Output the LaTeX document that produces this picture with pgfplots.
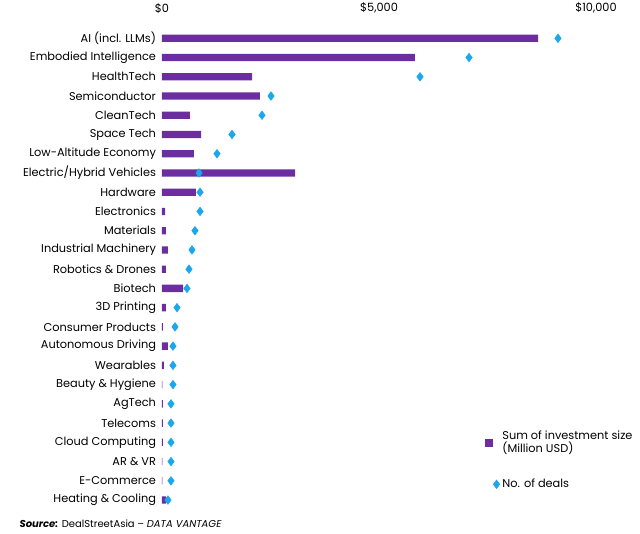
\documentclass[border=0pt]{standalone}
\usepackage{pgfplots}
\pgfplotsset{compat=1.18}
\usepackage{fontspec}
\setmainfont{Poppins}
\definecolor{bar}{HTML}{6B2DA0}
\definecolor{dia}{HTML}{1AA7EC}
\begin{document}
\begin{tikzpicture}
\useasboundingbox (0,0) rectangle (480pt,399.75pt);
\begin{axis}[
  at={(121.5pt,17.5pt)}, anchor=south west,
  scale only axis, width=325.5pt, height=360.75pt,
  xmin=0, xmax=10000, ymin=-0.5, ymax=24.5, y dir=reverse,
  axis line style={draw=none}, tick style={draw=none},
  xticklabel pos=upper, xtick={0,5000,10000},
  xticklabels={\$0,\$5{,}000,\$10{,}000},
  xticklabel style={yshift=8pt},
  ytick={0,...,24},
  yticklabels={AI (incl. LLMs),Embodied Intelligence,HealthTech,Semiconductor,CleanTech,Space Tech,Low-Altitude Economy,Electric/Hybrid Vehicles,Hardware,Electronics,Materials,Industrial Machinery,Robotics \& Drones,Biotech,3D Printing,Consumer Products,Autonomous Driving,Wearables,Beauty \& Hygiene,AgTech,Telecoms,Cloud Computing,AR \& VR,E-Commerce,Heating \& Cooling},
  yticklabel style={xshift=-1pt},
  tick label style={font=\fontsize{8.5}{10}\selectfont},
  /pgf/number format/assume math mode=true,
  clip=false,
  legend style={draw=none, fill=none, at={(1.1,0.03)}, anchor=south east,
    font=\fontsize{8.5}{10}\selectfont, row sep=14pt, legend cell align=left,
    nodes={align=left}},
]
\addplot[xbar, bar width=5.5pt, fill=bar, draw=none,
  legend image code/.code={\fill[bar] (0pt,-3pt) rectangle (6pt,3pt);}] coordinates {
(8664,0) (5829,1) (2074,2) (2258,3) (645,4) (899,5) (737,6) (3065,7) (783,8) (70,9)
(92,10) (138,11) (92,12) (484,13) (92,14) (23,15) (138,16) (46,17) (8,18) (23,19)
(23,20) (23,21) (10,22) (8,23) (92,24)};
\addlegendentry{Sum of investment size\\(Million USD)}
\addplot[only marks, mark=diamond*, mark size=3.2pt, color=dia] coordinates {
(9124,0) (7074,1) (5945,2) (2512,3) (2304,4) (1613,5) (1267,6) (853,7) (876,8) (876,9)
(760,10) (691,11) (622,12) (576,13) (346,14) (300,15) (253,16) (253,17) (253,18) (207,19)
(207,20) (207,21) (207,22) (207,23) (138,24)};
\addlegendentry{No. of deals}
\node[anchor=west, font=\fontsize{7.5}{9}\selectfont] at (rel axis cs:-0.339,-0.03) {\textbf{\textit{Source:}} DealStreetAsia – \textit{DATA VANTAGE}};
\end{axis}
\end{tikzpicture}
\end{document}
